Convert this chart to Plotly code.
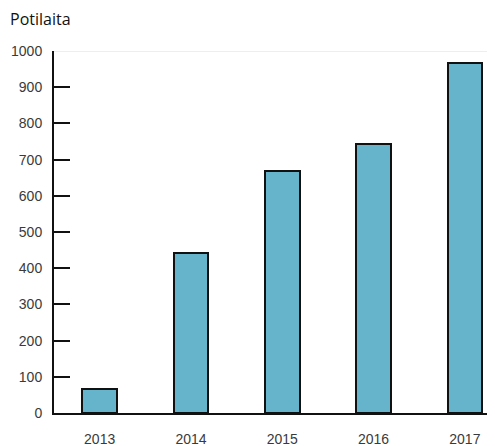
import plotly.graph_objects as go

years = ["2013", "2014", "2015", "2016", "2017"]
patients = [66, 443, 668, 743, 966]
y_ticks = [0, 100, 200, 300, 400, 500, 600, 700, 800, 900, 1000]

fig = go.Figure(go.Bar(
    x=years, y=patients,
    marker=dict(color="#66b3cc", line=dict(color="#111111", width=2)),
    width=0.38,
))

# page body has an 8px margin, so figure coords are shifted by 8px
fig.update_layout(
    width=495, height=446,
    margin=dict(l=46, r=8, t=43, b=41),
    paper_bgcolor="white", plot_bgcolor="white",
    showlegend=False,
    font=dict(family="Liberation Sans, Arial", size=13, color="#444444"),
    bargap=0,
)
fig.update_xaxes(
    type="category", range=[-0.5, 4.33],
    showline=True, linecolor="#111111", linewidth=2,
    ticks="", showgrid=False, automargin=False,
    tickfont=dict(family="Liberation Sans", size=14, color="#3a3a3a"),
    ticklabelstandoff=12,
)
fig.update_yaxes(
    range=[0, 1000], tickvals=y_ticks,
    showline=True, linecolor="#111111", linewidth=2,
    ticks="inside", ticklen=16, tickwidth=2, tickcolor="#111111",
    showgrid=False, zeroline=False, automargin=False,
    tickfont=dict(family="Liberation Sans", size=14, color="#3a3a3a"),
    ticklabelstandoff=7,
)
fig.add_shape(type="line", xref="paper", yref="y", x0=0, x1=1, y0=1000, y1=1000,
              line=dict(color="#dddddd", width=1), layer="below")
fig.add_annotation(text="Potilaita", xref="paper", yref="paper", x=-46/441, y=1 + 32/362,
                   xanchor="left", yanchor="middle", showarrow=False,
                   font=dict(family="Open Sans", size=16, color="#111111"))

fig.write_html("out.html")
